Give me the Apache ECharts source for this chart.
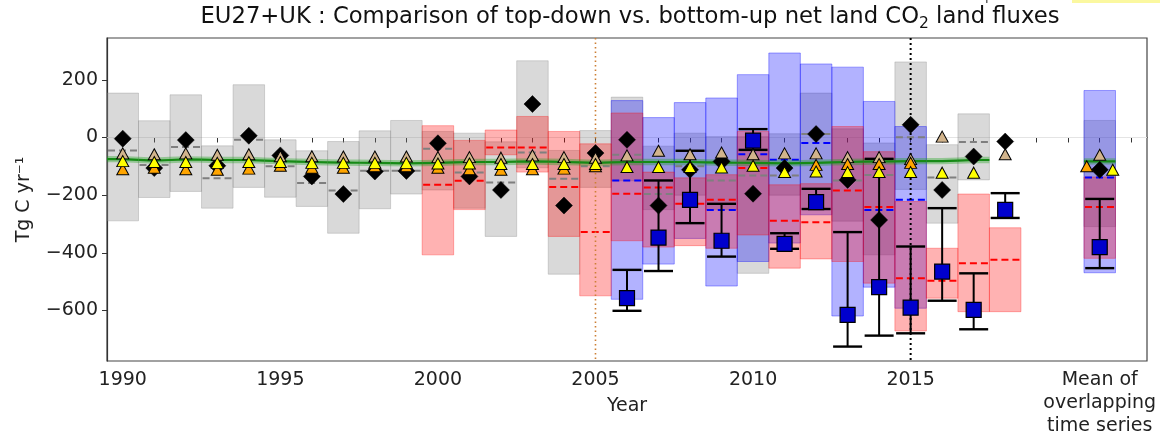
<!DOCTYPE html>
<html>
<head>
<meta charset="utf-8">
<script src="https://cdn.jsdelivr.net/npm/echarts@6/dist/echarts.min.js"></script>
<style>html,body{margin:0;padding:0;background:#fff;}#c{width:1160px;height:435px;}</style>
</head>
<body>
<div id="c"></div>
<script>
// x positions: years 1990..2018, then the "Mean of overlapping time series" slot at 2021
const xs = [1990,1991,1992,1993,1994,1995,1996,1997,1998,1999,2000,2001,2002,2003,2004,2005,2006,2007,2008,2009,2010,2011,2012,2013,2014,2015,2016,2017,2018,2021];
const tickYears = [1990,1991,1992,1993,1994,1995,1996,1997,1998,1999,2000,2001,2002,2003,2004,2005,2006,2007,2008,2009,2010,2011,2012,2013,2014,2015,2016,2017,2018,2019,2020,2021,2022];
const xLabelVals = [1990,1995,2000,2005,2010,2015,2021];
const meanLabel = 'Mean of\noverlapping\ntime series';
const yTickVals = [-600,-400,-200,0,200];
const vLineYears = [2005,2015];

// gray boxes (top, bottom, median dashed)
const grayTop = [154,58,148,-29,183,-8,-46,-14,23,59,21,15,-15,266,-45,24,140,-30,15,3,3,13,154,30,-19,262,-25,82,null,59];
const grayBot = [-289,-208,-187,-245,-173,-207,-239,-332,-247,-196,-182,-245,-343,-105,-474,-173,-150,-250,-200,-250,-471,-200,-250,-290,-407,-180,-297,-147,null,-309];
const grayMed = [-45,-95,-33,-141,-8,-100,-158,-184,-115,-115,-39,-121,-156,-52,-143,-100,-60,-196,-100,-149,-132,-132,12,-149,-130,1,-139,-16,null,null];

// red boxes
const redTop = [null,null,null,null,null,null,null,null,null,null,41,-10,26,73,21,-22,85,-120,-140,-129,21,-164,-160,38,-49,-222,-384,-196,-313,-137];
const redBot = [null,null,null,null,null,null,null,null,null,null,-407,-250,-60,-120,-343,-549,-358,-380,-375,-384,-338,-453,-421,-430,-505,-671,-557,-604,-604,-419];
const redMed = [null,null,null,null,null,null,null,null,null,null,-164,-150,-35,-35,-172,-328,-195,-173,-230,-216,-106,-289,-294,-184,-241,-488,-497,-436,-424,-241];

// blue boxes
const blueTop = [null,null,null,null,null,null,null,null,null,null,null,null,null,null,null,null,128,69,121,137,218,293,255,244,125,38,null,null,null,163];
const blueBot = [null,null,null,null,null,null,null,null,null,null,null,null,null,null,null,null,-561,-439,-350,-515,-430,-366,-268,-619,-519,-592,null,null,null,-469];
const blueMed = [null,null,null,null,null,null,null,null,null,null,null,null,null,null,null,null,-149,null,null,-251,-58,-77,-19,null,-251,-216,null,null,null,-139];

// blue squares with error bars
const sqVal = [null,null,null,null,null,null,null,null,null,null,null,null,null,null,null,null,-557,-347,-216,-358,-11,-369,-224,-615,-519,-590,-465,-598,-251,-380];
const sqLo  = [null,null,null,null,null,null,null,null,null,null,null,null,null,null,null,null,-601,-463,-297,-413,-43,-386,-248,-725,-687,-679,-566,-665,-279,-453];
const sqHi  = [null,null,null,null,null,null,null,null,null,null,null,null,null,null,null,null,-459,-149,-46,-230,29,-332,-178,-328,-74,-378,-245,-471,-193,-213];

// black diamonds
const diaVal = [-4,-106,-9,-98,6,-62,-135,-196,-118,-116,-20,-135,-182,116,-236,-54,-8,-236,-112,-83,-195,-106,12,-147,-286,44,-182,-66,-14,-112];

// triangles
const tanVal    = [-55,-58,-55,-60,-58,-65,-65,-66,-66,-66,-68,-68,-70,-62,-68,-70,-62,-46,-58,-52,-58,-55,-55,-68,-68,-75,3,null,-58,-60];
const orangeVal = [-110,-105,-110,-112,-108,-98,-105,-105,-100,-100,-105,-110,-112,-110,-108,-100,null,null,null,null,null,null,-95,-92,-92,-88,null,null,null,-100];
const yellowVal = [-82,-85,-85,-88,-85,-85,-88,-88,-88,-88,-90,-90,-92,-92,-92,-92,-102,-102,-102,-104,-98,-120,-118,-120,-120,-120,-122,-122,null,-112];

// green line with band
const greenVal = [-75,-80,-76,-78,-78,-82,-85,-87,-88,-90,-88,-85,-85,-83,-85,-88,-85,-85,-85,-87,-88,-90,-88,-85,-83,-82,-82,-78,null,-83];
const greenHalf = 11;

const FONT = 'DejaVu Sans';

function boxData(t, b) {
  return xs.map((x, i) => [x, t[i], b[i]]).filter(d => d[1] != null && d[2] != null);
}
function medData(m) {
  return xs.map((x, i) => [x, m[i]]).filter(d => d[1] != null);
}
function ptData(v, offsets) {
  return xs.map((x, i) => {
    if (v[i] == null) return null;
    const it = { value: [x, v[i]] };
    if (offsets && x === 2021) it.symbolOffset = offsets;
    return it;
  }).filter(d => d);
}
function boxSeries(name, t, b, fill, stroke, z) {
  return {
    type: 'custom', name, z, silent: true,
    data: boxData(t, b),
    encode: { x: 0, y: [1, 2] },
    renderItem: (params, api) => {
      const x = api.value(0);
      const p1 = api.coord([x - 0.5, api.value(1)]);
      const p2 = api.coord([x + 0.5, api.value(2)]);
      return { type: 'rect', shape: { x: p1[0], y: p1[1], width: p2[0] - p1[0], height: p2[1] - p1[1] },
        style: { fill, stroke, lineWidth: 1 } };
    }
  };
}
function medSeries(name, m, color, z) {
  return {
    type: 'custom', name, z, silent: true,
    data: medData(m),
    encode: { x: 0, y: 1 },
    renderItem: (params, api) => {
      const x = api.value(0), v = api.value(1);
      const p1 = api.coord([x - 0.5, v]);
      const p2 = api.coord([x + 0.5, v]);
      return { type: 'line', shape: { x1: p1[0] + 1, y1: p1[1], x2: p2[0], y2: p2[1] },
        style: { stroke: color, lineWidth: 2, lineDash: [7, 4] } };
    }
  };
}
function triSeries(name, v, color, offsets, z) {
  return {
    type: 'scatter', name, z, silent: true,
    symbol: 'triangle', symbolSize: [12, 11],
    itemStyle: { color, borderColor: '#000', borderWidth: 1, opacity: 1 },
    data: ptData(v, offsets)
  };
}

const vLineStyles = [
  { stroke: '#cc7f35', lineWidth: 1.6, lineDash: [1.5, 3] },
  { stroke: '#000', lineWidth: 2, lineDash: [2, 3] }
];

const greenData = xs.map((x, i) => [x, greenVal[i], i]).filter(d => d[1] != null);

const option = {
  animation: false,
  backgroundColor: '#fff',
  grid: { left: 107, right: 13, top: 38, bottom: 74, outerBoundsMode: 'none', containLabel: false,
    show: true, borderColor: '#444', borderWidth: 1.2, backgroundColor: 'rgba(0,0,0,0)' },
  graphic: [
    { type: 'text', x: 630, y: 17, z: 100,
      style: { text: '{a|EU27+UK : Comparison of top-down vs. bottom-up net land CO}{s|2}{a| land fluxes}',
        align: 'center', verticalAlign: 'middle',
        rich: { a: { fontSize: 22.7, fontFamily: FONT, fill: '#111', lineHeight: 30 },
                s: { fontSize: 15.5, fontFamily: FONT, fill: '#111', lineHeight: 16, verticalAlign: 'bottom' } } } },
    { type: 'rect', shape: { x: 1072, y: 0, width: 88, height: 3 }, style: { fill: '#fbf8a0' } },
    { type: 'rect', shape: { x: 986, y: 0, width: 1.5, height: 3 }, style: { fill: '#666' } }
  ],
  xAxis: {
    type: 'value', min: 1989.5, max: 2022.5,
    axisLine: { show: true, lineStyle: { color: '#333', width: 1.2 } },
    axisTick: { show: true, customValues: tickYears, length: 5, lineStyle: { color: '#333', width: 1 } },
    axisLabel: { customValues: xLabelVals, fontSize: 19, fontFamily: FONT, color: '#222', margin: 8, lineHeight: 23,
      hideOverlap: false, formatter: v => (v === 2021 ? meanLabel : String(v)) },
    splitLine: { show: false },
    name: 'Year', nameLocation: 'middle', nameGap: 36, nameMoveOverlap: false,
    nameTextStyle: { fontSize: 19, fontFamily: FONT, color: '#222' }
  },
  yAxis: {
    type: 'value', min: -775, max: 345,
    axisLine: { show: true, lineStyle: { color: '#333', width: 1.2 } },
    axisTick: { show: true, customValues: yTickVals, length: 5, lineStyle: { color: '#333', width: 1 } },
    axisLabel: { customValues: yTickVals, fontSize: 19, fontFamily: FONT, color: '#222', margin: 9,
      formatter: v => (v < 0 ? '\u2212' + Math.abs(v) : String(v)) },
    splitLine: { show: false },
    name: 'Tg C yr\u207B\u00B9', nameLocation: 'middle', nameGap: 73, nameRotate: 90, nameMoveOverlap: false,
    nameTextStyle: { fontSize: 19, fontFamily: FONT, color: '#222' }
  },
  series: [
    // zero line
    { type: 'custom', z: 1, silent: true, data: [[0]], encode: { y: 0 },
      renderItem: (params, api) => {
        const cs = params.coordSys;
        const p = api.coord([1990, api.value(0)]);
        return { type: 'line', shape: { x1: cs.x, y1: p[1], x2: cs.x + cs.width, y2: p[1] }, style: { stroke: '#e4e4e4', lineWidth: 1.2 } };
      } },
    boxSeries('gray', grayTop, grayBot, 'rgba(128,128,128,0.3)', 'rgba(128,128,128,0.3)', 2),
    boxSeries('blue', blueTop, blueBot, 'rgba(0,0,255,0.3)', 'rgba(0,0,255,0.35)', 3),
    boxSeries('red', redTop, redBot, 'rgba(255,0,0,0.3)', 'rgba(255,0,0,0.3)', 4),
    medSeries('grayMed', grayMed, '#7f7f7f', 5),
    medSeries('blueMed', blueMed, '#0000ff', 5),
    medSeries('redMed', redMed, '#ff0000', 6),
    // vertical dotted lines
    { type: 'custom', z: 7, silent: true, data: vLineYears.map(v => [v]), encode: { x: 0 },
      renderItem: (params, api) => {
        const cs = params.coordSys;
        const p = api.coord([api.value(0), 0]);
        return { type: 'line', shape: { x1: p[0], y1: cs.y, x2: p[0], y2: cs.y + cs.height }, style: vLineStyles[params.dataIndex] };
      } },
    // green line + band
    { type: 'custom', z: 8, silent: true, data: greenData, encode: { x: 0, y: 1 },
      renderItem: (params, api) => {
        const x = api.value(0), v = api.value(1), i = api.value(2);
        const prev = (i > 0 && xs[i - 1] === x - 1 && greenVal[i - 1] != null) ? greenVal[i - 1] : null;
        const next = (i < xs.length - 1 && xs[i + 1] === x + 1 && greenVal[i + 1] != null) ? greenVal[i + 1] : null;
        const lv = prev != null ? (prev + v) / 2 : v;
        const rv = next != null ? (next + v) / 2 : v;
        const pts = [[x - 0.5, lv], [x, v], [x + 0.5, rv]];
        const line = pts.map(p => api.coord(p));
        const up = pts.map(p => api.coord([p[0], p[1] + greenHalf]));
        const dn = pts.map(p => api.coord([p[0], p[1] - greenHalf])).reverse();
        return { type: 'group', children: [
          { type: 'polygon', shape: { points: up.concat(dn) }, style: { fill: 'rgba(20,160,20,0.35)' } },
          { type: 'polyline', shape: { points: line }, style: { stroke: '#168a16', lineWidth: 2.2, fill: null } }
        ] };
      } },
    // error bars
    { type: 'custom', z: 9, silent: true,
      data: xs.map((x, i) => [x, sqLo[i], sqHi[i]]).filter(d => d[1] != null),
      encode: { x: 0, y: [1, 2] },
      renderItem: (params, api) => {
        const x = api.value(0);
        const pl = api.coord([x, api.value(1)]);
        const ph = api.coord([x, api.value(2)]);
        const st = { stroke: '#000', lineWidth: 2.4 };
        return { type: 'group', children: [
          { type: 'line', shape: { x1: pl[0], y1: pl[1], x2: ph[0], y2: ph[1] }, style: { stroke: '#000', lineWidth: 2 } },
          { type: 'line', shape: { x1: pl[0] - 14.5, y1: pl[1], x2: pl[0] + 14.5, y2: pl[1] }, style: st },
          { type: 'line', shape: { x1: ph[0] - 14.5, y1: ph[1], x2: ph[0] + 14.5, y2: ph[1] }, style: st }
        ] };
      } },
    // diamonds
    { type: 'scatter', z: 10, silent: true, symbol: 'diamond', symbolSize: 17,
      itemStyle: { color: '#000', borderColor: '#000', borderWidth: 0.5, opacity: 1 }, data: ptData(diaVal) },
    triSeries('tan', tanVal, '#d2b48c', null, 11),
    triSeries('orange', orangeVal, '#ffa500', [-13, 0], 11),
    triSeries('yellow', yellowVal, '#ffff00', [13, 0], 12),
    // blue squares
    { type: 'scatter', z: 13, silent: true, symbol: 'rect', symbolSize: 15,
      itemStyle: { color: '#0000cd', borderColor: '#000', borderWidth: 1.2, opacity: 1 }, data: ptData(sqVal) }
  ]
};

const chart = echarts.init(document.getElementById('c'), null, { renderer: 'canvas' });
chart.setOption(option);
</script>
</body>
</html>
